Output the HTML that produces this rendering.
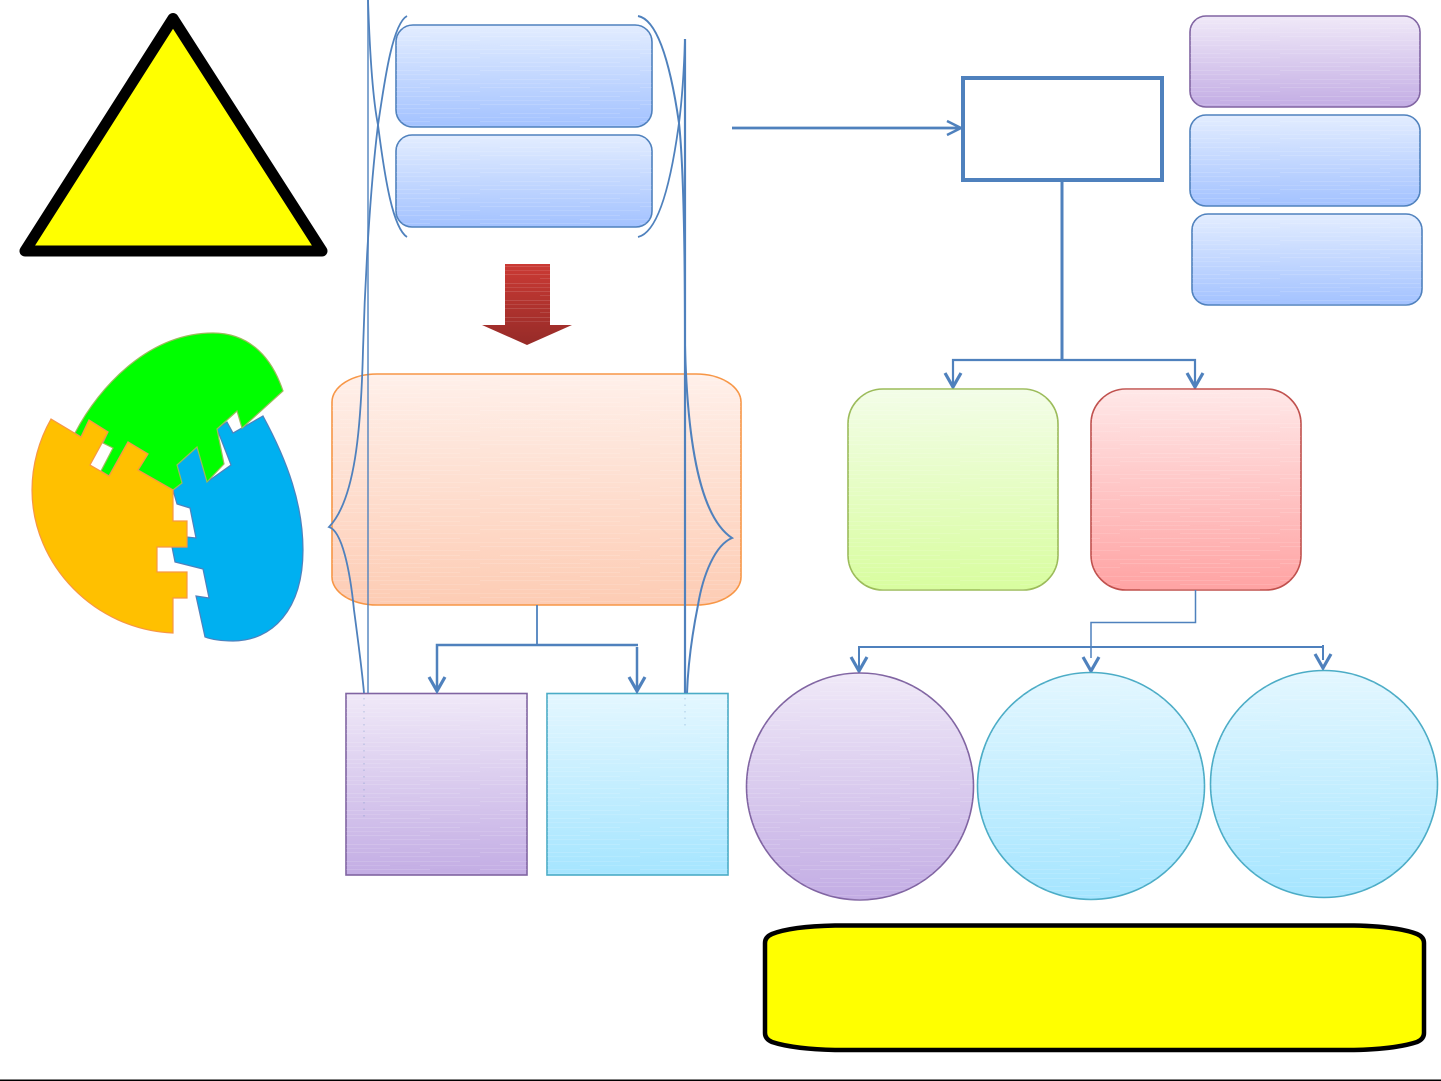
<!DOCTYPE html>
<html lang="en">
<head>
<meta charset="utf-8">
<title>Diagram</title>
<style>
html,body{margin:0;padding:0;background:#fff}
svg{display:block}
</style>
</head>
<body>
<svg xmlns="http://www.w3.org/2000/svg" width="1441" height="1081" viewBox="0 0 1441 1081">
<defs>
<linearGradient id="blue" x1="0" y1="0" x2="0" y2="1"><stop offset="0" stop-color="#e3edff"/><stop offset="1" stop-color="#a3c2ff"/></linearGradient>
<linearGradient id="purple" x1="0" y1="0" x2="0" y2="1"><stop offset="0" stop-color="#f0e9f8"/><stop offset="1" stop-color="#c3ade4"/></linearGradient>
<linearGradient id="cyan" x1="0" y1="0" x2="0" y2="1"><stop offset="0" stop-color="#e4f7ff"/><stop offset="1" stop-color="#a5e5ff"/></linearGradient>
<linearGradient id="orange" x1="0" y1="0" x2="0" y2="1"><stop offset="0" stop-color="#fff0ea"/><stop offset="1" stop-color="#fdccb4"/></linearGradient>
<linearGradient id="green" x1="0" y1="0" x2="0" y2="1"><stop offset="0" stop-color="#f3fde8"/><stop offset="1" stop-color="#d8fd9f"/></linearGradient>
<linearGradient id="red" x1="0" y1="0" x2="0" y2="1"><stop offset="0" stop-color="#ffe8e8"/><stop offset="1" stop-color="#ffa3a3"/></linearGradient>
<linearGradient id="dark" x1="0" y1="0" x2="0" y2="1"><stop offset="0" stop-color="#cb3a34"/><stop offset="1" stop-color="#962b28"/></linearGradient>
<pattern id="bands" patternUnits="userSpaceOnUse" width="160" height="17">
<rect x="0" y="2" width="110" height="1" fill="#fff" fill-opacity=".13"/>
<rect x="60" y="6" width="100" height="1" fill="#fff" fill-opacity=".11"/>
<rect x="20" y="11" width="120" height="1" fill="#fff" fill-opacity=".13"/>
<rect x="0" y="15" width="70" height="1" fill="#fff" fill-opacity=".1"/>
<rect x="100" y="15" width="60" height="1" fill="#fff" fill-opacity=".1"/>
</pattern>
</defs>

<!-- warning triangle -->
<polygon points="173,18.500 25,251 322,251" fill="#ffff00" stroke="#000" stroke-width="11" stroke-linejoin="round"/>

<!-- puzzle -->
<path d="M263,416 C288,462 303,505 303,550 C303,610 272,641 233,641 C223,641 213,640 205,637 L196,596 L209,598 L203,569 L175,562 L172,547 L187,547 L187,537 L196,538 L190,508 L177,504 L173,490 L182,483 L177,465 L197,447 L207,482 L231,465 L226,452 L217,429 L227,422 L233,433 Z" fill="#00b0f0" stroke="#4f81bd" stroke-width="1.200"/>
<path d="M75,433 C100,385 150,333 213,333 C245,333 270,352 283,391 L242,428 L237,411 L217,429 L224,464 L207,482 L197,447 L177,465 L182,483 L173,490 L138,470 L148,454 L128,442 L109,476 L101,471 L113,448 L103,443 L108,432 L89,420 L81,437 Z" fill="#00ff00" stroke="#9bbb59" stroke-width="1.200"/>
<path d="M51,419 L81,437 L89,420 L108,432 L90,465 L109,476 L128,442 L148,454 L138,470 L173,490 L173,521 L187,521 L187,547 L157,547 L157,572 L187,572 L187,598 L173,598 L173,633 C95,630 32,565 32,490 C32,465 39,440 51,419 Z" fill="#ffc000" stroke="#f79646" stroke-width="1.200"/>

<!-- top-left blue boxes -->
<rect x="396" y="25" width="256" height="102" rx="17" fill="url(#blue)" stroke="#4f81bd" stroke-width="1.600"/>
<rect x="396" y="25" width="256" height="102" rx="17" fill="url(#bands)"/>
<rect x="396" y="135" width="256" height="92" rx="16" fill="url(#blue)" stroke="#4f81bd" stroke-width="1.600"/>
<rect x="396" y="135" width="256" height="92" rx="16" fill="url(#bands)"/>

<!-- red block arrow -->
<polygon points="505,264 550,264 550,325 572,325 527,345 482,325 505,325" fill="url(#dark)"/>
<rect x="505" y="264" width="45" height="61" fill="url(#bands)"/>

<!-- orange box -->
<rect x="332" y="374" width="409" height="231" rx="45" ry="28" fill="url(#orange)" stroke="#f79646" stroke-width="1.600"/>
<rect x="332" y="374" width="409" height="231" rx="45" ry="28" fill="url(#bands)"/>

<!-- purple / cyan squares -->
<rect x="346" y="693.500" width="181" height="181.500" fill="url(#purple)" stroke="#8064a2" stroke-width="1.600"/>
<rect x="346" y="693.500" width="181" height="181.500" fill="url(#bands)"/>
<rect x="547" y="693.500" width="181" height="181.500" fill="url(#cyan)" stroke="#4bacc6" stroke-width="1.600"/>
<rect x="547" y="693.500" width="181" height="181.500" fill="url(#bands)"/>

<!-- braces / long lines -->
<g fill="none" stroke="#4f81bd" stroke-width="1.800">
<path d="M368,0 L368,693" stroke-opacity="0.700" stroke-width="2"/>
<path d="M368,0 C370,60 373,100 378,125 C385,180 393,228 407,237"/>
<path d="M407,16 C392,24 384,85 378,125 C370,190 365,280 363,350 C361,430 355,500 329,527 C342,531 350,570 354,610 C358,640 362,670 364,693"/>
<path d="M685,39 L685,693" stroke-width="2.200"/>
<path d="M638,237 C660,232 672,175 679,123 C682,100 684,70 685,39"/>
<path d="M638,16 C660,20 672,75 679,123 C684,170 685,260 685,345 C687,430 697,515 732,538 C715,545 703,575 698,605 C692,635 688,665 687,693" stroke-width="2"/>
</g>
<path d="M685,698 V727 M364,698 V820" fill="none" stroke="#4f81bd" stroke-opacity=".25" stroke-width="1.500" stroke-dasharray="1.500 5"/>

<!-- left connector -->
<g fill="none" stroke="#4f81bd" stroke-linecap="butt">
<path d="M537,605 V645" stroke-width="1.800"/>
<path d="M437,690 V645 H638" stroke-width="2.500"/>
<path d="M637,647 V690" stroke-width="2.500"/>
<path d="M429,677 L437,691 L445,677" stroke-width="3.200"/>
<path d="M629,677 L637,691 L645,677" stroke-width="3.200"/>
</g>

<!-- top arrow and white box -->
<g fill="none" stroke="#4f81bd">
<path d="M732,128 H960" stroke-width="2.800"/>
<path d="M947,121 L961,128 L947,135" stroke-width="2.500"/>
<rect x="963" y="78" width="199" height="102" fill="#fff" stroke-width="4"/>
<path d="M1062,180 V360" stroke-width="3"/>
<path d="M953,386 V360 H1195 V386" stroke-width="2.200"/>
<path d="M945,373 L953,387 L961,373" stroke-width="3.200"/>
<path d="M1187,373 L1195,387 L1203,373" stroke-width="3.200"/>
</g>

<!-- right top boxes -->
<rect x="1190" y="16" width="230" height="91" rx="16" fill="url(#purple)" stroke="#8064a2" stroke-width="1.600"/>
<rect x="1190" y="16" width="230" height="91" rx="16" fill="url(#bands)"/>
<rect x="1190" y="115" width="230" height="91" rx="16" fill="url(#blue)" stroke="#4f81bd" stroke-width="1.600"/>
<rect x="1190" y="115" width="230" height="91" rx="16" fill="url(#bands)"/>
<rect x="1192" y="214" width="230" height="91" rx="16" fill="url(#blue)" stroke="#4f81bd" stroke-width="1.600"/>
<rect x="1192" y="214" width="230" height="91" rx="16" fill="url(#bands)"/>

<!-- green / red boxes -->
<rect x="848" y="389" width="210" height="201" rx="35" fill="url(#green)" stroke="#9bbb59" stroke-width="1.600"/>
<rect x="848" y="389" width="210" height="201" rx="35" fill="url(#bands)"/>
<rect x="1091" y="389" width="210" height="201" rx="35" fill="url(#red)" stroke="#c0504d" stroke-width="1.600"/>
<rect x="1091" y="389" width="210" height="201" rx="35" fill="url(#bands)"/>

<!-- lower right connector -->
<g fill="none" stroke="#4f81bd">
<path d="M1195.500,590 V622.500 H1091 V658" stroke-width="1.500"/>
<path d="M859,670 V647 H1323" stroke-width="2"/>
<path d="M1323,645 V660" stroke-width="2"/>
<path d="M851,657 L859,671 L867,657" stroke-width="3.200"/>
<path d="M1083,657 L1091,671 L1099,657" stroke-width="3.200"/>
<path d="M1315,654 L1323,668 L1331,654" stroke-width="3.200"/>
</g>

<!-- circles -->
<circle cx="860" cy="786.500" r="113.500" fill="url(#purple)" stroke="#8064a2" stroke-width="1.600"/>
<circle cx="860" cy="786.500" r="113.500" fill="url(#bands)"/>
<circle cx="1091" cy="786" r="113.500" fill="url(#cyan)" stroke="#4bacc6" stroke-width="1.600"/>
<circle cx="1091" cy="786" r="113.500" fill="url(#bands)"/>
<circle cx="1324" cy="784" r="113.500" fill="url(#cyan)" stroke="#4bacc6" stroke-width="1.600"/>
<circle cx="1324" cy="784" r="113.500" fill="url(#bands)"/>

<!-- yellow banner -->
<path d="M835,925.500 H1354 C1377,926 1402,928 1417,934 Q1424,937 1424,943 V1033 Q1424,1039 1417,1042 C1402,1047 1377,1049.500 1354,1050 H835 C812,1049.500 787,1047 772,1042 Q765,1039 765,1033 V943 Q765,937 772,934 C787,928 812,926 835,925.500 Z" fill="#ffff00" stroke="#000" stroke-width="4.500"/>

<!-- bottom rule -->
<rect x="0" y="1079.500" width="1441" height="1.500" fill="#000"/>
</svg>
</body>
</html>
